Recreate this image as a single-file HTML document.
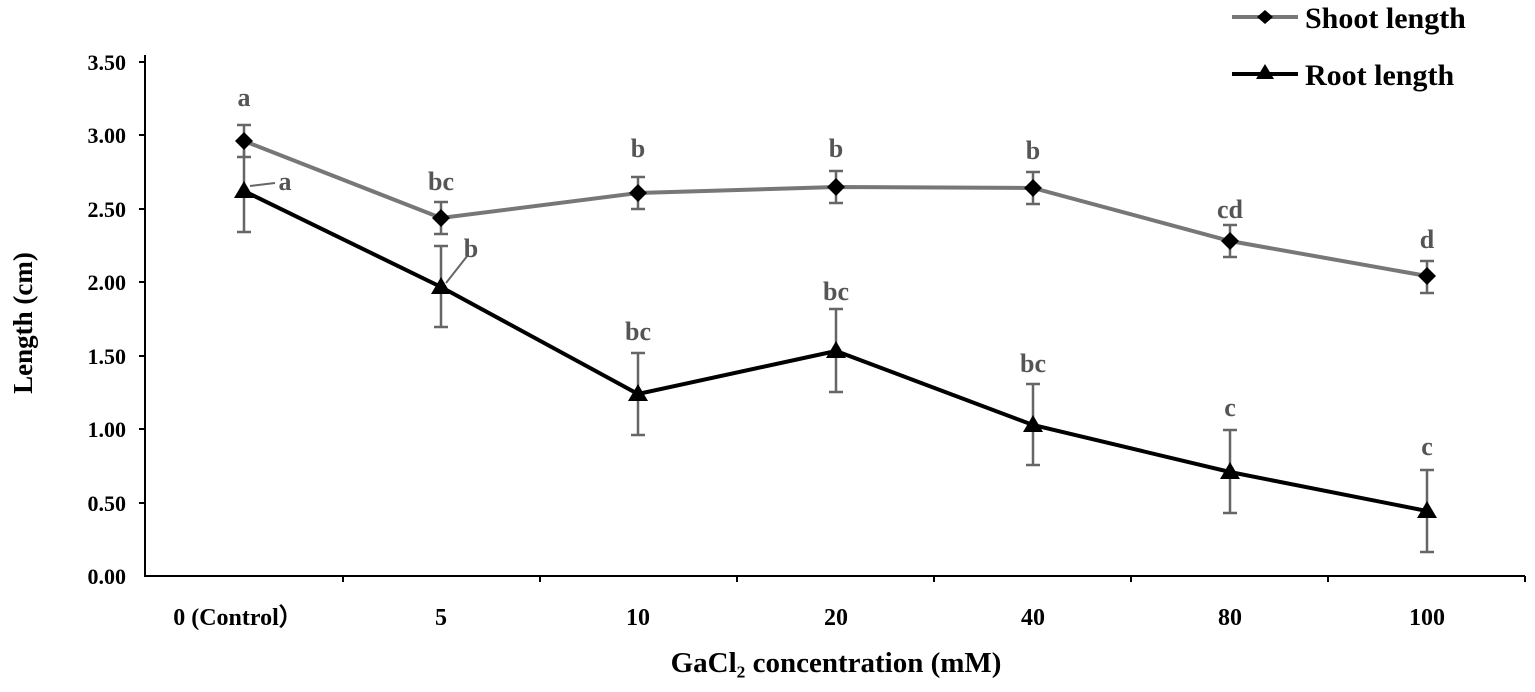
<!DOCTYPE html>
<html><head><style>body{margin:0;background:#fff}svg text{font-family:"Liberation Serif",serif;font-weight:bold}</style></head><body>
<svg width="1535" height="687" xmlns="http://www.w3.org/2000/svg">
<g stroke="#000" stroke-width="2" fill="none">
<line x1="145" y1="55" x2="145" y2="577"/>
<line x1="144" y1="576" x2="1525" y2="576"/>
<line x1="139" y1="62" x2="145" y2="62"/><line x1="139" y1="135" x2="145" y2="135"/><line x1="139" y1="209" x2="145" y2="209"/><line x1="139" y1="282" x2="145" y2="282"/><line x1="139" y1="356" x2="145" y2="356"/><line x1="139" y1="429" x2="145" y2="429"/><line x1="139" y1="503" x2="145" y2="503"/>
<line x1="343" y1="576" x2="343" y2="582"/><line x1="540" y1="576" x2="540" y2="582"/><line x1="737" y1="576" x2="737" y2="582"/><line x1="934" y1="576" x2="934" y2="582"/><line x1="1131" y1="576" x2="1131" y2="582"/><line x1="1328" y1="576" x2="1328" y2="582"/><line x1="1525" y1="576" x2="1525" y2="582"/>
</g>
<g font-size="22" text-anchor="end" fill="#000">
<text x="126" y="70">3.50</text><text x="126" y="143">3.00</text><text x="126" y="217">2.50</text><text x="126" y="290">2.00</text><text x="126" y="364">1.50</text><text x="126" y="437">1.00</text><text x="126" y="511">0.50</text><text x="126" y="584">0.00</text>
</g>
<g font-size="24" text-anchor="middle" fill="#000">
<text x="238" y="625">0 (Control）</text><text x="441" y="625">5</text><text x="638" y="625">10</text><text x="836" y="625">20</text><text x="1033" y="625">40</text><text x="1230" y="625">80</text><text x="1427" y="625">100</text>
<text x="836" y="672" font-size="29">GaCl₂ concentration (mM)</text>
</g>
<text transform="translate(32,323) rotate(-90)" font-size="27" text-anchor="middle">Length (cm)</text>
<g stroke="#666" stroke-width="2.5">
<path d="M244 125V157M237 125H251M237 157H251 M441 202V234M434 202H448M434 234H448 M638 177V209M631 177H645M631 209H645 M836 171V203M829 171H843M829 203H843 M1033 172V204M1026 172H1040M1026 204H1040 M1230 225V257M1223 225H1237M1223 257H1237 M1427 261V293M1420 261H1434M1420 293H1434"/>
<path d="M244 151V232M237 232H251 M441 246V327M434 246H448M434 327H448 M638 353V435M631 353H645M631 435H645 M836 309V392M829 309H843M829 392H843 M1033 384V465M1026 384H1040M1026 465H1040 M1230 430V513M1223 430H1237M1223 513H1237 M1427 470V552M1420 470H1434M1420 552H1434"/>
<path d="M250 186L275 183 M446 283L468 255" stroke-width="2"/>
</g>
<polyline fill="none" stroke="#777" stroke-width="4" points="244,141 441,218 638,193 836,187 1033,188 1230,241 1427,276"/>
<polyline fill="none" stroke="#000" stroke-width="4" points="244,191 441,287 638,394 836,351 1033,425 1230,472 1427,511"/>
<g fill="#000">
<path d="M244 132l9 9-9 9-9-9z M441 209l9 9-9 9-9-9z M638 184l9 9-9 9-9-9z M836 178l9 9-9 9-9-9z M1033 179l9 9-9 9-9-9z M1230 232l9 9-9 9-9-9z M1427 267l9 9-9 9-9-9z"/>
<path d="M244 181l10 17h-20z M441 277l10 17h-20z M638 384l10 17h-20z M836 341l10 17h-20z M1033 415l10 17h-20z M1230 462l10 17h-20z M1427 501l10 17h-20z"/>
</g>
<g font-size="26" fill="#555" text-anchor="middle">
<text x="244" y="106">a</text><text x="441" y="190">bc</text><text x="638" y="157">b</text><text x="836" y="157">b</text><text x="1033" y="159">b</text><text x="1230" y="218">cd</text><text x="1427" y="248">d</text>
<text x="285" y="190">a</text><text x="471" y="257">b</text><text x="638" y="340">bc</text><text x="836" y="300">bc</text><text x="1033" y="372">bc</text><text x="1230" y="416">c</text><text x="1427" y="455">c</text>
</g>
<g stroke-width="4"><line x1="1232" y1="17" x2="1298" y2="17" stroke="#777"/><line x1="1232" y1="74" x2="1298" y2="74" stroke="#000"/></g>
<path d="M1265 10l8 7-8 7-8-7z M1265 64l9 15h-18z" fill="#000"/>
<g font-size="30" fill="#000"><text x="1305" y="28">Shoot length</text><text x="1305" y="85">Root length</text></g>
</svg>
</body></html>
